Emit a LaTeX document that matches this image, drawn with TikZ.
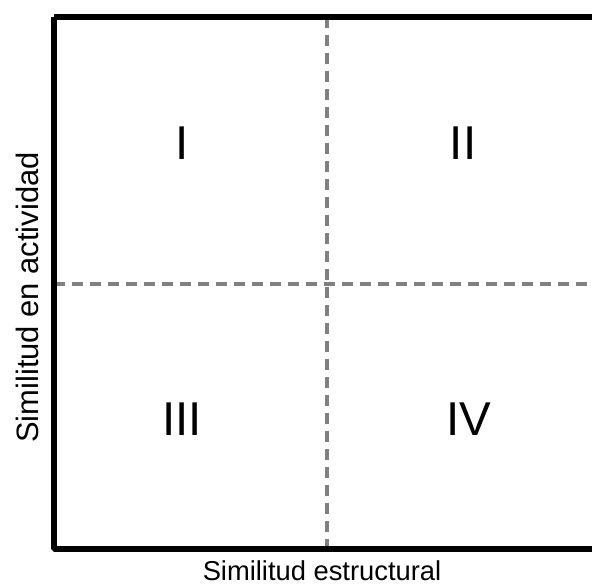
\documentclass[tikz,border=0pt]{standalone}
\usepackage{fontspec}
\setmainfont{Liberation Sans}
\begin{document}
\begin{tikzpicture}[x=0.75pt,y=-0.75pt,
  frame/.style={line width=4.5pt,line cap=butt},
  divider/.style={line width=2.3pt,draw={rgb,255:red,128;green,128;blue,128},dash pattern=on 8.25pt off 5.25pt},
  quad/.style={font=\fontsize{35.6}{40}\selectfont,inner sep=0pt},
  ylabelstyle/.style={font=\fontsize{23.2}{27}\selectfont,inner sep=0pt},
  xlabelstyle/.style={font=\fontsize{20.5}{24}\selectfont,inner sep=0pt}]
\useasboundingbox (0,0) rectangle (592,585);
\draw[divider] (327,17) -- (327,549);
\draw[divider] (54,284) -- (592,284);
\draw[frame] (54,17) -- (592,17);
\draw[frame,line join=bevel] (54,17) -- (54,549) -- (592,549);
\node[quad] (q1) at (182,143) {I};
\node[quad] (q2) at (463,143) {II};
\node[quad] (q3) at (182,419) {III};
\node[quad] (q4) at (469,419) {IV};
\node[ylabelstyle,rotate=90] (ylab) at (27,297.5) {Similitud en actividad};
\node[xlabelstyle] (xlab) at (322,571) {Similitud estructural};
\end{tikzpicture}
\end{document}
